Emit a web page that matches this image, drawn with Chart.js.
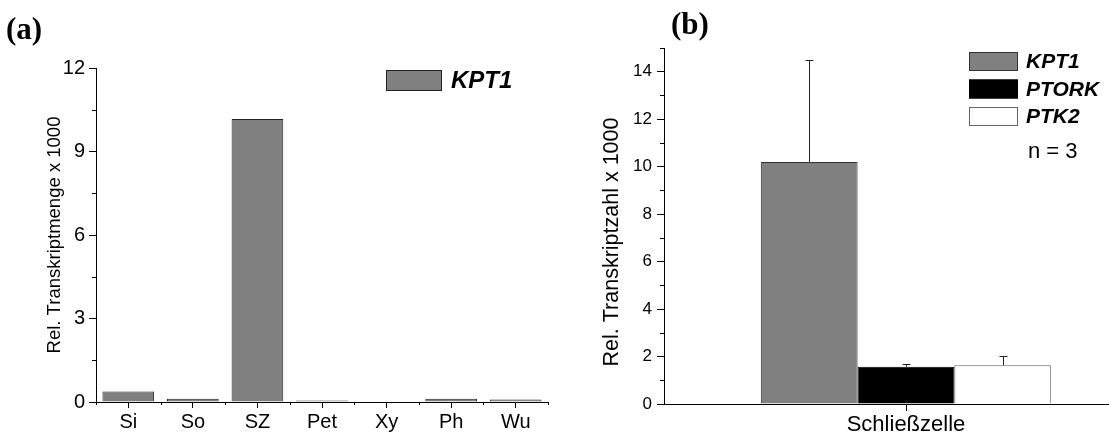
<!DOCTYPE html>
<html>
<head>
<meta charset="utf-8">
<script src="https://cdn.jsdelivr.net/npm/chart.js@4.4.0/dist/chart.umd.min.js"></script>
<style>
    html, body { margin: 0; padding: 0; background: #fff; overflow: hidden; }
    #wrap { position: relative; width: 1109px; height: 435px; overflow: hidden; }
    #chartA { position: absolute; left: 0; top: 0; }
    #chartB { position: absolute; left: 555px; top: 0; }
</style>
</head>
<body>
<div id="wrap">
    <canvas id="chartA" width="560" height="435"></canvas>
    <canvas id="chartB" width="595" height="435"></canvas>
</div>
<script>
// (a) KPT1 in verschiedenen Geweben
const tissues = ['Si', 'So', 'SZ', 'Pet', 'Xy', 'Ph', 'Wu'];
const kpt1Tissue = [0.38, 0.12, 10.17, 0.05, 0.015, 0.12, 0.09];
const yTicksA = [0, 3, 6, 9, 12];
const yMinorA = [1.5, 4.5, 7.5, 10.5];

// (b) Schließzellen, drei Gene
const cellTypes = ['Schließzelle'];
const genes = ['KPT1', 'PTORK', 'PTK2'];
const geneMeans = [10.2, 1.57, 1.63];
const geneErrors = [4.3, 0.1, 0.41];
const geneFill = ['#808080', '#000000', '#ffffff'];
const geneBorder = ['#333333', '#000000', '#666666'];
const yTicksB = [0, 2, 4, 6, 8, 10, 12, 14];
const yMinorB = [1, 3, 5, 7, 9, 11, 13, 15];

const SANS = "'Liberation Sans', Arial, sans-serif";
const SERIF = "'Liberation Serif', 'Times New Roman', serif";

// Kleine Striche, Fehlerbalken, Legende und Beschriftungen
const panelDecor = {
    id: 'panelDecor',
    afterDraw(chart, args, opts) {
        const ctx = chart.ctx;
        const ys = chart.scales.y;
        const xs = chart.scales.x;
        ctx.save();
        ctx.strokeStyle = '#000';
        ctx.lineWidth = 1;

        // Nebenstriche y-Achse
        (opts.yMinor || []).forEach(v => {
            const py = Math.round(ys.getPixelForValue(v)) + 0.5;
            ctx.beginPath();
            ctx.moveTo(ys.right - 4, py);
            ctx.lineTo(ys.right, py);
            ctx.stroke();
        });

        // Nebenstriche x-Achse (Kategoriegrenzen)
        if (opts.xMinor) {
            for (let i = 0; i <= chart.data.labels.length; i++) {
                const px = Math.round(xs.getPixelForValue(i - 0.5)) + 0.5;
                ctx.beginPath();
                ctx.moveTo(px, xs.top);
                ctx.lineTo(px, xs.top + 3);
                ctx.stroke();
            }
        }

        // Fehlerbalken (nur nach oben)
        if (opts.errors) {
            ctx.strokeStyle = '#222';
            chart.data.datasets.forEach((ds, i) => {
                const bar = chart.getDatasetMeta(i).data[0];
                const err = opts.errors[i];
                const yTop = Math.round(ys.getPixelForValue(ds.data[0] + err)) + 0.5;
                const px = Math.round(bar.x) + 0.5;
                ctx.beginPath();
                ctx.moveTo(px, bar.y);
                ctx.lineTo(px, yTop);
                ctx.moveTo(px - 4, yTop);
                ctx.lineTo(px + 4, yTop);
                ctx.stroke();
            });
        }

        // Legende
        const lg = opts.legend;
        chart.data.datasets.forEach((ds, i) => {
            const top = lg.y + i * lg.step;
            ctx.fillStyle = ds.backgroundColor;
            ctx.fillRect(lg.x, top, lg.w, lg.h);
            ctx.strokeStyle = ds.borderColor;
            ctx.strokeRect(lg.x + 0.5, top + 0.5, lg.w - 1, lg.h - 1);
            ctx.fillStyle = '#000';
            ctx.font = `italic bold ${lg.size}px ${SANS}`;
            ctx.textBaseline = 'middle';
            ctx.textAlign = 'left';
            ctx.fillText(ds.label, lg.x + lg.w + lg.gap, top + lg.h / 2 + 1);
        });

        // Freie Texte
        (opts.texts || []).forEach(t => {
            ctx.save();
            ctx.fillStyle = '#000';
            ctx.font = t.font;
            ctx.textAlign = t.align || 'left';
            ctx.textBaseline = t.baseline || 'alphabetic';
            ctx.translate(t.x, t.y);
            if (t.rotate) ctx.rotate(t.rotate);
            ctx.fillText(t.text, 0, 0);
            ctx.restore();
        });
        ctx.restore();
    }
};

function axisFont(size) {
    return { family: SANS, size: size };
}

// Panel (a)
new Chart(document.getElementById('chartA'), {
    type: 'bar',
    data: {
        labels: tissues,
        datasets: [{
            label: 'KPT1',
            data: kpt1Tissue,
            backgroundColor: '#808080',
            borderColor: '#222222',
            borderWidth: 1,
            categoryPercentage: 0.8,
            barPercentage: 1.0
        }]
    },
    options: {
        responsive: false,
        animation: false,
        layout: { padding: { left: 0, right: 12, top: 68, bottom: 0 } },
        plugins: {
            legend: { display: false },
            tooltip: { enabled: false },
            panelDecor: {
                yMinor: yMinorA,
                xMinor: true,
                legend: { x: 386, y: 70, w: 56, h: 21, step: 0, gap: 9, size: 24 },
                texts: [
                    { text: '(a)', x: 6, y: 39, font: `bold 31px ${SERIF}` }
                ]
            }
        },
        scales: {
            x: {
                offset: true,
                grid: { display: true, drawOnChartArea: false, offset: false, tickLength: 6, color: '#000' },
                border: { display: true, color: '#000', width: 1 },
                ticks: { color: '#000', font: axisFont(20), padding: 2, maxRotation: 0 },
                afterFit: s => { s.height = 33; }
            },
            y: {
                min: 0,
                max: 12,
                afterBuildTicks: s => { s.ticks = yTicksA.map(v => ({ value: v })); },
                grid: { display: true, drawOnChartArea: false, tickLength: 7, color: '#000' },
                border: { display: true, color: '#000', width: 1 },
                ticks: { color: '#000', font: axisFont(20), padding: 4 },
                title: {
                    display: true,
                    text: 'Rel. Transkriptmenge x 1000',
                    color: '#000',
                    font: axisFont(18.5),
                    padding: { top: 44, bottom: 0 }
                },
                afterFit: s => { s.width = 96; }
            }
        }
    },
    plugins: [panelDecor]
});

// Panel (b)
new Chart(document.getElementById('chartB'), {
    type: 'bar',
    data: {
        labels: cellTypes,
        datasets: genes.map((g, i) => ({
            label: g,
            data: [geneMeans[i]],
            backgroundColor: geneFill[i],
            borderColor: geneBorder[i],
            borderWidth: 1,
            categoryPercentage: 0.6,
            barPercentage: 1.0
        }))
    },
    options: {
        responsive: false,
        animation: false,
        layout: { padding: { left: 0, right: 2, top: 48, bottom: 0 } },
        plugins: {
            legend: { display: false },
            tooltip: { enabled: false },
            panelDecor: {
                yMinor: yMinorB,
                xMinor: false,
                errors: geneErrors,
                legend: { x: 414, y: 52, w: 49, h: 19, step: 27.5, gap: 8, size: 21 },
                texts: [
                    { text: '(b)', x: 116, y: 34, font: `bold 31px ${SERIF}` },
                    { text: 'n = 3', x: 473, y: 152, font: `22px ${SANS}`, baseline: 'middle' },
                    { text: 'Rel. Transkriptzahl x 1000', x: 57, y: 242, font: `21.5px ${SANS}`,
                      align: 'center', baseline: 'middle', rotate: -Math.PI / 2 }
                ]
            }
        },
        scales: {
            x: {
                offset: true,
                grid: { display: true, drawOnChartArea: false, offset: false, tickLength: 7, color: '#000' },
                border: { display: true, color: '#000', width: 1 },
                ticks: { color: '#000', font: axisFont(22), padding: 1, maxRotation: 0 },
                afterFit: s => { s.height = 31; }
            },
            y: {
                min: 0,
                max: 15,
                afterBuildTicks: s => { s.ticks = yTicksB.map(v => ({ value: v })); },
                grid: { display: true, drawOnChartArea: false, tickLength: 7, color: '#000' },
                border: { display: true, color: '#000', width: 1 },
                ticks: { color: '#000', font: axisFont(17), padding: 5 },
                afterFit: s => { s.width = 109; }
            }
        }
    },
    plugins: [panelDecor]
});
</script>
</body>
</html>
